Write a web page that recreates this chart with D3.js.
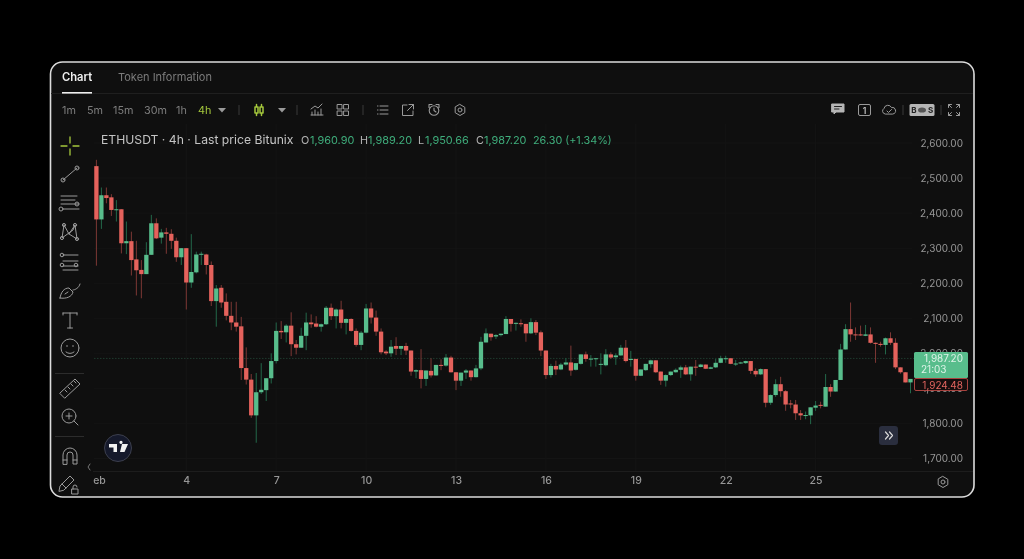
<!DOCTYPE html>
<html>
<head>
<meta charset="utf-8">
<script src="https://d3js.org/d3.v7.min.js"></script>
<style>
  html, body { margin: 0; background: #000; }
  svg { display: block; font-family: Inter, "Noto Sans", sans-serif; filter: blur(0.4px); }
  .domain { display: none; }
  .tick line { display: none; }
</style>
</head>
<body>
<svg id="chart" width="1024" height="559"></svg>
<script>
const opens = [
  2534,2382,2451,2445,2409,2411,2314,2320,2268,2238,
  2226,2281,2371,2330,2345,2341,2321,2274,2300,2202,
  2231,2282,2282,2252,2149,2187,2147,2107,2088,2077,
  1958,1925,1823,1889,1895,1929,1978,2064,2060,2079,
  2026,2016,2050,2088,2085,2076,2083,2130,2106,2125,
  2087,2098,2064,2024,2059,2128,2102,2062,2005,2000,
  2021,2013,2021,2008,1948,1952,1927,1950,1937,1967,
  1965,1988,1946,1922,1945,1951,1932,1957,2031,2056,
  2048,2052,2055,2098,2086,2086,2084,2057,2089,2060,
  2008,1938,1964,1954,1968,1974,1953,1970,1997,1984,
  1985,1968,1966,1997,1989,1994,2016,1981,1984,1936,
  1952,1969,1980,1948,1922,1938,1946,1953,1960,1940,
  1962,1961,1968,1956,1960,1973,1985,1986,1970,1971,
  1972,1978,1950,1940,1955,1859,1881,1912,1892,1857,
  1854,1829,1823,1823,1845,1853,1848,1904,1891,1924,
  2011,2069,2054,2054,2050,2054,2030,2027,2024,2043,
  2030,1960,1946,1917
];
const closes = [
  2382,2451,2443,2409,2411,2314,2320,2266,2237,2226,
  2281,2371,2328,2345,2341,2321,2274,2300,2202,2232,
  2282,2284,2252,2149,2185,2145,2107,2088,2076,1958,
  1925,1823,1889,1896,1929,1978,2064,2060,2079,2026,
  2016,2050,2088,2083,2076,2083,2130,2106,2125,2087,
  2098,2064,2024,2059,2128,2102,2062,2003,2000,2019,
  2013,2021,2008,1948,1952,1927,1951,1937,1967,1965,
  1988,1946,1922,1945,1951,1932,1957,2033,2057,2046,
  2052,2056,2098,2084,2087,2083,2057,2089,2059,2008,
  1938,1964,1954,1968,1974,1951,1972,1997,1984,1985,
  1986,1970,1997,1988,1994,2016,1978,1984,1936,1954,
  1970,1980,1946,1922,1938,1948,1953,1960,1940,1962,
  1961,1968,1956,1960,1973,1986,1986,1970,1971,1974,
  1978,1950,1940,1955,1859,1881,1912,1892,1854,1855,
  1829,1823,1824,1846,1851,1851,1904,1891,1924,2011,
  2069,2054,2052,2051,2054,2030,2027,2024,2043,2030,
  1960,1946,1917,1927
];
const highs = [
  2552,2473,2473,2454,2437,2411,2376,2347,2321,2266,
  2317,2395,2385,2355,2358,2354,2330,2300,2300,2340,
  2290,2290,2284,2262,2195,2195,2171,2147,2147,2104,
  2017,1941,1944,1972,1929,2000,2088,2092,2083,2117,
  2038,2073,2116,2111,2106,2085,2135,2142,2128,2150,
  2100,2100,2071,2064,2141,2145,2122,2071,2009,2038,
  2046,2021,2030,2008,1954,2012,1951,1986,1967,1983,
  1998,1993,1946,1945,1955,1951,1967,2047,2071,2056,
  2055,2056,2106,2098,2088,2097,2084,2100,2095,2065,
  2008,1970,1979,1973,1986,2022,1972,1997,2005,1995,
  1986,2000,2012,2003,2000,2024,2038,2007,1984,1954,
  1970,1982,1980,1948,1940,1948,1957,1965,1967,1962,
  1981,1970,1968,1962,1984,1993,1993,1986,1981,1976,
  1979,1978,1957,1957,1955,1883,1926,1933,1895,1867,
  1867,1838,1834,1846,1864,1862,1941,1912,1924,2027,
  2083,2145,2074,2079,2081,2074,2031,2033,2045,2060,
  2043,1960,1946,1927
];
const lows = [
  2250,2355,2428,2392,2376,2285,2283,2222,2165,2157,
  2226,2281,2326,2313,2284,2298,2261,2252,2125,2187,
  2228,2252,2225,2135,2076,2130,2094,2066,2062,1924,
  1911,1816,1745,1884,1864,1914,1971,2041,2031,1992,
  1997,2016,2009,2073,2074,2062,2081,2095,2071,2071,
  2054,2062,2019,2009,2057,2085,2050,1997,1995,1990,
  1995,1995,1995,1936,1929,1900,1907,1931,1936,1952,
  1962,1945,1895,1907,1927,1922,1931,1952,2031,2036,
  2041,2048,2055,2062,2065,2076,2033,2055,2052,1992,
  1927,1931,1938,1952,1965,1936,1951,1968,1976,1962,
  1962,1940,1963,1984,1967,1993,1974,1962,1922,1935,
  1950,1959,1944,1910,1905,1935,1945,1930,1938,1922,
  1936,1960,1955,1955,1958,1972,1973,1969,1964,1970,
  1970,1941,1933,1938,1846,1853,1876,1876,1836,1843,
  1810,1810,1812,1798,1836,1843,1848,1876,1891,1924,
  2011,2033,2038,2050,2049,2028,1973,2019,1997,2024,
  1955,1942,1917,1886
];
const priceTicks = [2600,2500,2400,2300,2200,2100,2000,1900,1800,1700];
const dateLabels = ["Feb","4","7","10","13","16","19","22","25"];
const dateIndexes = [0,18,36,54,72,90,108,126,144];
const lastPrice = 1987.20, markPrice = 1924.48;
const intervals = ["1m","5m","15m","30m","1h","4h"];
const intervalX = [62,87,113,144,176,198];

const UP = "#58bd8c", DOWN = "#e5625c";
const UPWICK = "#23684a", DOWNWICK = "#7d3835";
const ICON = "#9a9a9a", LIME = "#a5c83c";

const svg = d3.select("#chart");
const x = d3.scaleLinear().domain([0, 163]).range([96.4, 910.5]);
const y = d3.scaleLinear().domain([1700, 2600]).range([458.5, 143]);

// frame
svg.append("rect").attr("width", 1024).attr("height", 559).attr("fill", "#000");
svg.append("rect").attr("x", 50.5).attr("y", 62).attr("width", 923.5).attr("height", 435)
  .attr("rx", 12).attr("fill", "#0f0f0f").attr("stroke", "#dcdcdc").attr("stroke-width", 1.6);

const hline = (x1, x2, yy, c) => svg.append("line").attr("x1", x1).attr("x2", x2)
  .attr("y1", yy).attr("y2", yy).attr("stroke", c);
hline(51, 973, 93.5, "#1f1f1f");
hline(93, 973, 471.5, "#1d1d1d");

// grid
const grid = svg.append("g").attr("stroke", "#141414");
grid.selectAll(".gy").data(priceTicks).enter().append("line")
  .attr("x1", 94).attr("x2", 912).attr("y1", d => y(d)).attr("y2", d => y(d));
grid.selectAll(".gx").data(dateIndexes.slice(1)).enter().append("line")
  .attr("x1", d => x(d)).attr("x2", d => x(d)).attr("y1", 124).attr("y2", 471);

// tabs
const label = (t, xx, yy, size, fill, weight, anchor) => svg.append("text").text(t)
  .attr("x", xx).attr("y", yy).attr("font-size", size).attr("fill", fill)
  .attr("font-weight", weight || 400).attr("text-anchor", anchor || "start");
label("Chart", 62, 81, 11.2, "#f0f0f0", 600);
label("Token Information", 118, 81, 11, "#7c7c7c", 400);
svg.append("rect").attr("x", 62).attr("y", 92).attr("width", 30).attr("height", 1.6).attr("fill", "#eee");

// toolbar
intervals.forEach((t, i) => label(t, intervalX[i], 114, 10.8, t === "4h" ? LIME : "#7d7d7d", 400));

const icon = (cx, cy, d, opts) => {
  opts = opts || {};
  return svg.append("path").attr("transform", `translate(${cx},${cy})`).attr("d", d)
    .attr("fill", opts.fill || "none").attr("stroke", opts.stroke || ICON)
    .attr("stroke-width", opts.width || 1).attr("stroke-linecap", "round").attr("stroke-linejoin", "round");
};
const dot = (px, py, r) => `M${px + r},${py} a${r},${r} 0 1 0 ${-2 * r},0 a${r},${r} 0 1 0 ${2 * r},0 `;
const tri = "M-4,-2 L4,-2 L0,2.5 Z";
icon(222, 110, tri, { fill: "#9a9a9a", stroke: "none" });
icon(282, 110, tri, { fill: "#9a9a9a", stroke: "none" });
[239, 297, 363, 903, 941].forEach(s => svg.append("line").attr("x1", s).attr("x2", s)
  .attr("y1", 105).attr("y2", 115).attr("stroke", "#3a3a3a"));

// candle type icon
icon(259, 110, "M-4,-3 h3 v6 h-3 Z M-2.5,-5.5 v2.5 M-2.5,3 v2.5 M1,-3 h3 v6 h-3 Z M2.5,-5.5 v2.5 M2.5,3 v2.5", { stroke: LIME, width: 1.5 });
// indicators
icon(317, 110, "M-6,5 h12 M-5,5 v-3 M-2,5 v-5 M1,5 v-3 M4,5 v-6 M-6,-1 L-2,-4 L1,-2 L5,-6");
// layouts
icon(343, 110, "M-5.5,-5.5 h4.5 v4.5 h-4.5 Z M1,-5.5 h4.5 v4.5 h-4.5 Z M-5.5,1 h4.5 v4.5 h-4.5 Z M1,1 h4.5 v4.5 h-4.5 Z");
// list
icon(383, 110, "M-3,-4 h8 M-3,0 h8 M-3,4 h8 M-5.5,-4 h.5 M-5.5,0 h.5 M-5.5,4 h.5");
// popout
icon(408, 110, "M-1,-5 h-4.5 v10.5 h10.5 v-4.5 M1,-5.5 h4.5 v4.5 M5.5,-5.5 L-0.5,0.5");
// alarm
icon(434, 110, dot(0, 0.5, 4.8) + "M-5,-5.5 h3 M2,-5.5 h3 M-5,-5.5 v3 M5,-5.5 v3 M0,-2 v2.5 l2,1.5", { width: 1.1 });
// gear
icon(460, 110, "M0,-5.5 L4.8,-2.7 V2.7 L0,5.5 L-4.8,2.7 V-2.7 Z M2,0 A2,2 0 1 1 -2,0 A2,2 0 1 1 2,0");

// right toolbar
icon(838, 109, "M-6,-5 h12 v8 h-8 l-2,2 v-2 h-2 Z", { fill: "#b5b5b5", stroke: "#b5b5b5" });
icon(838, 109, "M-3.5,-2.5 h7 M-3.5,0 h4.5", { stroke: "#222" });
icon(889, 110, "M-4,4 a3,3 0 0 1 -1,-5.5 a4,4 0 0 1 7.5,-1 a3.2,3.2 0 0 1 1.5,6.5 Z M-2,1 l1.5,1.5 l3,-3");
svg.append("rect").attr("x", 858.5).attr("y", 104.5).attr("width", 12).attr("height", 11).attr("rx", 1.5)
  .attr("fill", "none").attr("stroke", ICON);
label("1", 864.5, 113.5, 8.5, "#c0c0c0", 600, "middle");
svg.append("rect").attr("x", 909.5).attr("y", 104).attr("width", 25).attr("height", 12).attr("rx", 1.5).attr("fill", "#b5b5b5");
label("B", 914, 113, 8, "#222", 700, "middle");
label("S", 930.5, 113, 8, "#222", 700, "middle");
svg.append("ellipse").attr("cx", 922).attr("cy", 110).attr("rx", 4).attr("ry", 2.6).attr("fill", "#555");
icon(954, 110, "M-5.5,-2.5 v-3 h3 M-5.5,-5.5 l3,3 M5.5,-2.5 v-3 h-3 M5.5,-5.5 l-3,3 M-5.5,2.5 v3 h3 M-5.5,5.5 l3,-3 M5.5,2.5 v3 h-3 M5.5,5.5 l-3,-3");

// left toolbar
icon(70, 146, "M-9,0 h6 M3,0 h6 M0,-9 v6 M0,3 v6", { stroke: LIME, width: 1.3 });
icon(70, 174, "M-7,6 L7,-6 " + dot(-7, 6, 2) + dot(7, -6, 2));
icon(70, 203, "M-9,-7 h16 M-9,-3 h14 M-9,1 h17 M-7,6 h16 " + dot(-9, 6, 2) + dot(7, 1, 2));
icon(70, 232, "M-6,-7 L-1,2 L7,7 M-6,-7 L-8,6 L3,-2 L5,-7 L-1,2 M5,-7 L7,7 " + dot(-6, -7, 1.6) + dot(5, -7, 1.6) + dot(-8, 6, 1.6) + dot(7, 7, 1.6));
icon(70, 262, "M-7,-7 h15 M-7,-1 h15 M-7,4 h15 M-7,8 h15 " + dot(-8, -7, 1.8) + dot(-8, 3, 1.8) + dot(6, 3, 1.8));
icon(70, 291, "M-10,7 C-9,1 -6,-3 -1,-3 L3,1 C2,6 -4,8 -10,7 Z M-5,3 l3,-2 M3,-1 C5,-1 9,-3 10,-7");
icon(70, 320, "M-7,-7 h14 M-7,-7 v2 M7,-7 v2 M0,-7 v15 M-2.5,8 h5");
icon(70, 348, dot(0, 0, 9) + "M-4,4 Q0,7 4,4 M-3,-2.5 v1 M3,-2.5 v1");
hline(55, 84, 373.5, "#2c2c2c");
icon(70, 388, "M-10,5 L5,-9 L10,-4 L-5,10 Z M-5,2 l2,2 M-2,-1 l2,2 M1,-4 l2,2 M4,-7 l2,2");
icon(69, 416, dot(0, 0, 7) + "M5,5 L9,9 M-3,0 h6 M0,-3 v6");
hline(55, 84, 436.5, "#2c2c2c");
icon(70, 456, "M-7,8 V-1 A7,7 0 0 1 7,-1 V8 H3 V-1 A3,3 0 0 0 -3,-1 V8 Z M-7,4 h4 M3,4 h4");
icon(67, 483, "M-8,8 L-7,3 L3,-7 L7,-3 L-3,7 Z M-5,1 l4,4");
icon(75, 490, "M-3,-1 h6 v5 h-6 Z M-2,-1 v-2 a2,2 0 0 1 4,0");
icon(89, 467, "M1,-3 L-1,0 L1,3", { stroke: "#777" });

// last price line
svg.append("line").attr("x1", 94).attr("x2", 914).attr("y1", y(lastPrice) + 0.6).attr("y2", y(lastPrice) + 0.6)
  .attr("stroke", "#254c3a").attr("stroke-dasharray", "1.5,1.5").attr("opacity", 0.7);

// candles
const candles = d3.range(opens.length);
svg.append("defs").append("clipPath").attr("id", "plot").append("rect")
  .attr("x", 94).attr("y", 124).attr("width", 820).attr("height", 347);

const plot = svg.append("g").attr("clip-path", "url(#plot)");
plot.selectAll(".wick").data(candles).enter().append("line")
  .attr("x1", i => x(i)).attr("x2", i => x(i))
  .attr("y1", i => y(highs[i])).attr("y2", i => y(lows[i]))
  .attr("stroke", i => closes[i] >= opens[i] ? UPWICK : DOWNWICK);
plot.selectAll(".body").data(candles).enter().append("rect")
  .attr("x", i => x(i) - 2.15).attr("width", 4.3)
  .attr("y", i => y(Math.max(opens[i], closes[i])))
  .attr("height", i => Math.max(1, Math.abs(y(opens[i]) - y(closes[i]))))
  .attr("fill", i => closes[i] >= opens[i] ? UP : DOWN);

// price axis
const yAxis = d3.axisRight(y).tickValues(priceTicks).tickFormat(d3.format(",.2f")).tickSize(0).tickPadding(0);
const yg = svg.append("g").attr("transform", "translate(963,0)").call(yAxis);
yg.selectAll("text").attr("text-anchor", "end").attr("fill", "#979797").attr("font-size", 10)
  .attr("font-family", "Inter, sans-serif");

// time axis
const timeScale = d3.scaleOrdinal().domain(dateLabels).range(dateIndexes.map(x));
const xAxis = d3.axisBottom(timeScale).tickSize(0).tickPadding(0);
const xg = svg.append("g").attr("transform", "translate(0,477)").call(xAxis);
xg.selectAll("text").attr("fill", "#979797").attr("font-size", 10.5).attr("font-weight", 500)
  .attr("font-family", "Inter, sans-serif");
// the Feb label is cut off by the left toolbar
xg.selectAll(".tick").filter(d => d === "Feb").select("text").text("eb").attr("x", 2.6);

// current price tags
svg.append("rect").attr("x", 914).attr("y", 352).attr("width", 54).attr("height", 26)
  .attr("rx", 1.5).attr("fill", UP);
label(d3.format(",.2f")(lastPrice), 963, 361.5, 10, "#dff3e8", 400, "end");
label("21:03", 921, 373, 10, "#dff3e8", 400);
svg.append("rect").attr("x", 914.5).attr("y", 378.5).attr("width", 53).attr("height", 12)
  .attr("rx", 1.5).attr("fill", "#150d0d").attr("stroke", "#a8433f");
label(d3.format(",.2f")(markPrice), 963, 388.5, 10, "#e2655f", 400, "end");

// legend
label("ETHUSDT · 4h · Last price Bitunix", 101, 144, 12.2, "#c4c4c4", 400);
const legendKeys = ["O", "H", "L", "C"];
const legendVals = ["1,960.90", "1,989.20", "1,950.66", "1,987.20"];
const legendKeyX = [301, 360, 418, 476];
const legendValX = [310, 368, 425, 484];
legendKeys.forEach((k, i) => {
  label(k, legendKeyX[i], 143.5, 10.8, "#b5b5b5", 400);
  label(legendVals[i], legendValX[i], 143.5, 10.9, "#3fae7c", 400);
});
label("26.30 (+1.34%)", 533, 143.5, 10.8, "#3fae7c", 400);

// logo + go to realtime
svg.append("circle").attr("cx", 118).attr("cy", 448).attr("r", 13.5)
  .attr("fill", "#15192b").attr("stroke", "#3c3f4d");
icon(118, 448, "M-9,-4 h8 v8 h-3.5 v-4.5 h-4.5 Z M3,-4 a1.6,1.6 0 1 1 0.01,0 Z M4,-4 h6 l-3.5,8 h-4.5 Z", { fill: "#f2f2f2", stroke: "none" });
svg.append("rect").attr("x", 879).attr("y", 426).attr("width", 19).attr("height", 19).attr("rx", 3).attr("fill", "#2a2e3e");
icon(888.5, 435.5, "M-3,-3.5 L0,0 L-3,3.5 M1,-3.5 L4,0 L1,3.5", { stroke: "#d8d8d8", width: 1.2 });
icon(943, 482, "M0,-5.5 L4.8,-2.7 V2.7 L0,5.5 L-4.8,2.7 V-2.7 Z M2,0 A2,2 0 1 1 -2,0 A2,2 0 1 1 2,0");
</script>
</body>
</html>
